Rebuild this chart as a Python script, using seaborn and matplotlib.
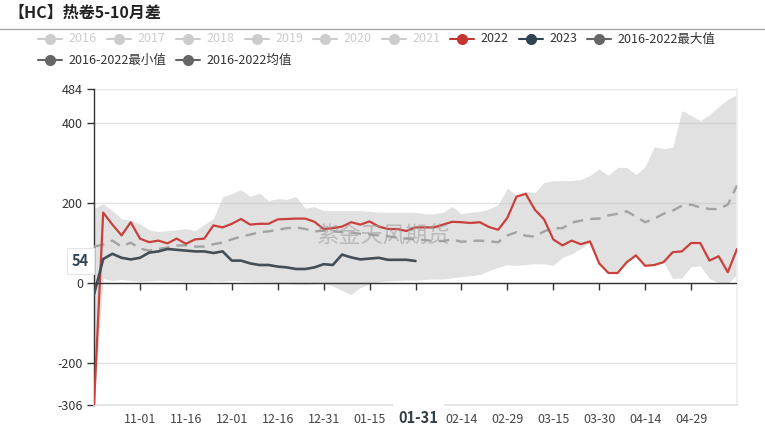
import numpy as np
import pandas as pd
import matplotlib
matplotlib.use("Agg")
import matplotlib.pyplot as plt
import matplotlib.transforms as mtransforms
from matplotlib.lines import Line2D
import seaborn as sns

# ---------------- data ----------------
title = "【HC】热卷5-10月差"
legend_names = ["2016", "2017", "2018", "2019", "2020", "2021", "2022", "2023",
                "2016-2022最大值", "2016-2022最小值", "2016-2022均值"]
legend_colors = ["#cccccc"] * 6 + ["#c23531", "#2f4554", "#666666", "#666666", "#666666"]
legend_active = [False] * 6 + [True] * 5

dates = pd.date_range("2023-10-17", "2024-05-14", freq="3D")  # 71 sample days

val_2022 = [-306, 175, 145, 118, 151, 110, 101, 105, 98, 110,
            97, 108, 110, 143, 138, 147, 159, 145, 147, 147,
            158, 159, 160, 160, 152, 134, 136, 140, 151, 145,
            153, 140, 134, 134, 129, 138, 138, 138, 145, 152,
            151, 149, 151, 139, 132, 162, 215, 222, 182, 158,
            108, 93, 105, 96, 103, 48, 24, 24, 51, 68,
            42, 44, 51, 76, 78, 99, 99, 55, 66, 26,
            84]

val_2023 = [-30, 59, 72, 62, 58, 62, 75, 78, 84, 82,
            80, 78, 78, 74, 78, 55, 55, 48, 44, 44,
            40, 38, 34, 34, 38, 46, 44, 70, 63, 58,
            60, 62, 57, 57, 57, 54]

val_mean = [90, 95, 105, 90, 100, 85, 80, 84, 88, 93,
            93, 90, 90, 96, 100, 108, 115, 120, 126, 128,
            132, 136, 138, 134, 128, 130, 128, 126, 125, 122,
            120, 118, 116, 112, 110, 108, 106, 104, 104, 108,
            102, 104, 105, 103, 101, 118, 126, 117, 115, 128,
            136, 136, 150, 155, 159, 160, 168, 172, 178, 165,
            151, 160, 172, 180, 192, 195, 188, 184, 184, 195,
            243]

val_max = [185, 197, 180, 160, 155, 147, 132, 128, 130, 132,
           135, 130, 145, 160, 215, 222, 232, 215, 224, 205,
           210, 208, 215, 186, 190, 180, 180, 180, 180, 180,
           178, 176, 176, 176, 176, 176, 172, 172, 176, 190,
           172, 176, 178, 184, 195, 236, 218, 228, 225, 250,
           255, 255, 255, 258, 268, 284, 268, 288, 288, 270,
           290, 340, 335, 338, 430, 418, 405, 420, 440, 458,
           470]

val_min = [-306, 10, 5, 8, 5, 3, 4, 6, 5, 5,
           3, 4, 2, 4, 3, 5, 4, 3, 2, 2,
           0, -2, -4, -5, -3, -2, -8, -20, -30, -12,
           -4, 2, 4, 5, 6, 6, 8, 9, 9, 12,
           15, 17, 20, 30, 38, 45, 43, 45, 47, 47,
           43, 63, 72, 85, 100, 48, 24, 24, 51, 68,
           42, 44, 51, 10, 12, 40, 42, 10, 0, -2,
           20]

tick_labels = ["11-01", "11-16", "12-01", "12-16", "12-31", "01-15", "01-30",
               "02-14", "02-29", "03-15", "03-30", "04-14", "04-29"]
y_ticks = [-306, -200, 0, 200, 400, 484]
last_label = "01-31"
last_value = 54
watermark = "紫金天风期货"

# ---------------- style ----------------
sns.set_theme(style="white")
plt.rcParams["font.family"] = ["Noto Sans CJK SC", "DejaVu Sans"]
plt.rcParams["axes.unicode_minus"] = False

W, H = 765, 430
fig = plt.figure(figsize=(W / 100, H / 100), dpi=100)
L, R, T, B = 94, 737, 89, 405
ax = fig.add_axes([L / W, 1 - B / H, (R - L) / W, (B - T) / H])

def to_date(lbl):
    m, d = lbl.split("-")
    year = 2023 if int(m) >= 10 else 2024
    return pd.Timestamp(year=year, month=int(m), day=int(d))

tick_dates = [to_date(t) for t in tick_labels]
highlight_date = to_date(last_label)

# band
ax.fill_between(dates, val_min, val_max, color="#c4c4c4", alpha=0.5, lw=0, zorder=1)

# lines
sns.lineplot(x=dates, y=val_mean, ax=ax, color="#a3a3a3", lw=1.7,
             linestyle=(0, (4.5, 3)), zorder=3)
sns.lineplot(x=dates, y=val_2022, ax=ax, color="#c9403c", lw=1.6, zorder=4)
sns.lineplot(x=dates[:len(val_2023)], y=val_2023, ax=ax, color="#434e56", lw=1.9, zorder=4)

ax.set_xlim(dates[0], dates[-1])
ax.set_ylim(y_ticks[0], y_ticks[-1])
ax.set_xlabel("")
ax.set_ylabel("")

# grid
ax.set_yticks(y_ticks)
ax.set_yticklabels([str(v) for v in y_ticks])
ax.yaxis.grid(True, color="#e2e2e2", lw=1)
ax.xaxis.grid(False)
ax.set_axisbelow(True)

# tick labels; the one hidden under the highlighted date box is left blank
shown_labels = [("" if abs((d - highlight_date).days) < 3 else t)
                for t, d in zip(tick_labels, tick_dates)]
ax.set_xticks(tick_dates)
ax.set_xticklabels(shown_labels)
ax.tick_params(axis="x", length=0, pad=6, labelsize=9, labelcolor="#444444")
ax.tick_params(axis="y", length=5, width=1, color="#333333", pad=3,
               labelsize=9, labelcolor="#333333", left=True)

ax.spines["top"].set_visible(False)
ax.spines["left"].set_color("#333333")
ax.spines["left"].set_linewidth(1)
ax.spines["bottom"].set_color("#e2e2e2")
ax.spines["right"].set_color("#eeeeee")

# zero axis line with downward ticks
ax.axhline(0, color="#333333", lw=1, zorder=5)
ax.plot(tick_dates, [0] * len(tick_dates), ls="none", marker=3, ms=5,
        mec="#333333", mew=1, zorder=5, clip_on=False)

# watermark
ax.text(0.449, 0.535, watermark, transform=ax.transAxes, ha="center", va="center",
        fontsize=16, color="#9a9a9a", alpha=0.55, zorder=6)

# highlighted labels
trans_y = mtransforms.blended_transform_factory(ax.transAxes, ax.transData)
ax.text(-0.008, last_value, str(last_value), transform=trans_y, ha="right", va="center",
        fontsize=10.5, fontweight="bold", color="#2f4554", zorder=10, clip_on=False,
        bbox=dict(boxstyle="square,pad=0.35", fc="white", ec="#e6e6e6", lw=0.8))
trans_x = mtransforms.blended_transform_factory(ax.transData, ax.transAxes)
ax.text(highlight_date, -0.041, last_label, transform=trans_x, ha="center", va="center",
        fontsize=10.5, fontweight="bold", color="#2f3d47", zorder=10, clip_on=False,
        bbox=dict(boxstyle="square,pad=0.4", fc="white", ec="none"))

# title and separator
fig.text(8 / W, 1 - 13 / H, title, fontsize=11.5, fontweight="bold", color="#222222",
         va="center", ha="left")
fig.add_artist(Line2D([0, 1], [1 - 28.5 / H] * 2, transform=fig.transFigure,
                      color="#aaaaaa", lw=1))

# legend (manual, echarts-like)
legend_text_x = [68, 137, 206, 275, 343, 412, 480, 549, 617, 68, 206]
legend_row_y = [39] * 9 + [60] * 2
for name, col, act, tx, ty in zip(legend_names, legend_colors, legend_active,
                                  legend_text_x, legend_row_y):
    cx = tx - 18
    yy = 1 - ty / H
    fig.add_artist(Line2D([(cx - 12) / W, (cx + 12) / W], [yy, yy], transform=fig.transFigure,
                          color=col, lw=1.5))
    fig.add_artist(Line2D([cx / W], [yy], transform=fig.transFigure, marker="o",
                          ms=8, mfc=col, mec=col, mew=0, ls="none"))
    fig.text(tx / W, yy, name, fontsize=9, color="#333333" if act else "#cccccc",
             va="center", ha="left")

fig.savefig("out.png", dpi=100)
